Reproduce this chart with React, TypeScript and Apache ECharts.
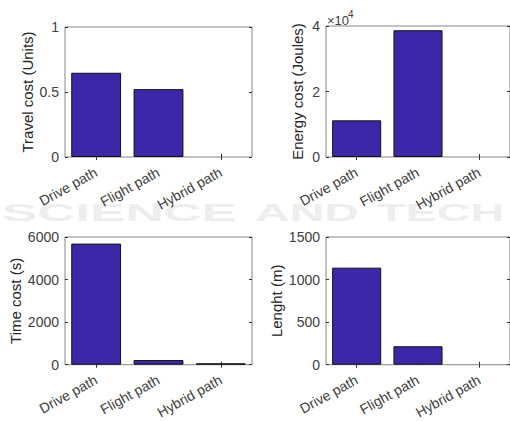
import React, { useEffect, useRef } from "react";
import * as echarts from "echarts";

const categories = ["Drive path", "Flight path", "Hybrid path"];
const travelCost = [0.648, 0.522, 0];
const energyCost = [11200, 38700, 0];
const timeCost = [5690, 218, 65];
const lengthM = [1140, 217, 0];

const yNames = ["Travel cost (Units)", "Energy cost (Joules)", "Time cost (s)", "Lenght (m)"];
const yMax = [1, 40000, 6000, 1500];
const yInterval = [0.5, 20000, 2000, 500];

const FONT = "'Liberation Sans', Arial, Helvetica, sans-serif";
const BAR = "#3e26a8";
const BOX = "#858585";
const TICK_TXT = "#404040";

export default function App() {
  const ref = useRef<HTMLDivElement>(null);
  useEffect(() => {
    if (!ref.current) return;
    const chart = echarts.init(ref.current, undefined, { renderer: "svg" });
    const grids = [
      { left: 65, top: 27, width: 187, height: 130 },
      { left: 326, top: 26, width: 189, height: 131 },
      { left: 65, top: 237, width: 187, height: 130 },
      { left: 326, top: 237, width: 189, height: 130 },
    ];
    const nameGaps = [30, 21, 42, 42];
    const seriesData = [travelCost, energyCost, timeCost, lengthM];
    const xAxis: any[] = [];
    const yAxis: any[] = [];
    const series: any[] = [];
    grids.forEach((_, i) => {
      xAxis.push({
        type: "category",
        gridIndex: i,
        data: categories,
        position: "bottom",
        axisLine: { show: false },
        axisTick: { show: true, inside: true, length: 3, alignWithLabel: true, lineStyle: { color: "#333" } },
        axisLabel: { rotate: 29, fontSize: 14, color: TICK_TXT, margin: 14, fontFamily: FONT, interval: 0 },
        splitLine: { show: false },
      });
      xAxis.push({
        type: "category",
        gridIndex: i,
        data: categories,
        position: "top",
        axisLine: { show: false },
        axisTick: { show: true, inside: true, length: 3, alignWithLabel: true, lineStyle: { color: "#333" } },
        axisLabel: { show: false },
        splitLine: { show: false },
      });
      yAxis.push({
        type: "value",
        gridIndex: i,
        position: "left",
        min: 0,
        max: yMax[i],
        interval: yInterval[i],
        name: yNames[i],
        nameLocation: "middle",
        nameGap: nameGaps[i],
        nameTextStyle: { fontSize: 15, color: "#262626", fontFamily: FONT },
        axisLine: { show: false },
        axisTick: { show: true, inside: true, length: 3, lineStyle: { color: "#333" } },
        axisLabel: {
          fontSize: 14,
          color: TICK_TXT,
          margin: 6,
          fontFamily: FONT,
          formatter: (v: number) => (i === 1 ? String(v / 10000) : String(v)),
        },
        splitLine: { show: false },
      });
      yAxis.push({
        type: "value",
        gridIndex: i,
        position: "right",
        min: 0,
        max: yMax[i],
        interval: yInterval[i],
        axisLine: { show: false },
        axisTick: { show: true, inside: true, length: 3, lineStyle: { color: "#333" } },
        axisLabel: { show: false },
        splitLine: { show: false },
      });
      series.push({
        type: "bar",
        xAxisIndex: i * 2,
        yAxisIndex: i * 2,
        data: seriesData[i].map((v) => (v === 0 ? { value: 0, itemStyle: { borderWidth: 0 } } : v)),
        barCategoryGap: "20%",
        itemStyle: { color: BAR, borderColor: "#111", borderWidth: 1 },
        z: 2,
      });
    });

    const wm = { fill: "#eeeeee", font: `bold 24px ${FONT}` };
    const option: any = {
      animation: false,
      backgroundColor: "#ffffff",
      textStyle: { fontFamily: FONT },
      grid: grids.map((g) => ({ ...g, show: true, borderColor: BOX, borderWidth: 1, backgroundColor: "transparent", containLabel: false })),
      xAxis,
      yAxis,
      series,
      graphic: [
        { type: "text", x: 2, y: 201, scaleX: 2.2, z: -5, silent: true, style: { text: "SCIENCE", ...wm } },
        { type: "text", x: 255, y: 201, scaleX: 2.0, z: -5, silent: true, style: { text: "AND", ...wm } },
        { type: "text", x: 377, y: 201, scaleX: 1.95, z: -5, silent: true, style: { text: "TECH", ...wm } },
        { type: "text", x: 327, y: 20, z: 10, style: { text: "×10", fill: TICK_TXT, font: `13px ${FONT}`, verticalAlign: "middle" } },
        { type: "text", x: 348, y: 14, z: 10, style: { text: "4", fill: TICK_TXT, font: `10px ${FONT}`, verticalAlign: "middle" } },
      ],
    };
    chart.setOption(option);
    return () => chart.dispose();
  }, []);
  return <div ref={ref} style={{ position: "absolute", left: 0, top: 0, width: 510, height: 421 }} />;
}
